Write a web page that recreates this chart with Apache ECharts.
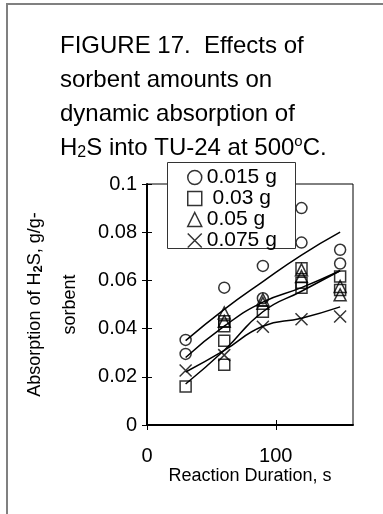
<!DOCTYPE html>
<html>
<head>
<meta charset="utf-8">
<script src="https://cdn.jsdelivr.net/npm/echarts@6/dist/echarts.min.js"></script>
<style>
html,body{margin:0;padding:0;background:#fff;}
#c{width:383px;height:514px;}
</style>
</head>
<body>
<div id="c"></div>
<script>
// ---- data ----
var seriesNames = ['0.015 g', '0.03 g', '0.05 g', '0.075 g'];
var xTicks = [0, 100];
var yTicks = [0, 0.02, 0.04, 0.06, 0.08, 0.1];

// measured points [reaction duration s, absorption g/g-sorbent]
var pts015 = [[30,0.0353],[30,0.0295],[60,0.057],[90,0.066],[90,0.0526],[120,0.090],[120,0.0757],[150,0.0727],[150,0.067]];
var pts03  = [[30,0.016],[60,0.043],[60,0.041],[60,0.035],[60,0.025],[90,0.047],[120,0.065],[120,0.059],[120,0.057],[150,0.0616],[150,0.056]];
var pts05  = [[60,0.0465],[60,0.043],[90,0.052],[90,0.0505],[120,0.0644],[120,0.0616],[150,0.0575],[150,0.054]];
var pts075 = [[30,0.0226],[60,0.029],[90,0.0408],[120,0.0439],[150,0.045]];

// model curves
var fit015 = [[30,0.035],[60,0.048],[90,0.0595],[120,0.0705],[150,0.080]];
var fit03  = [[30,0.028],[60,0.041],[90,0.051],[120,0.057],[150,0.064]];
var fit05  = [[30,0.017],[60,0.031],[90,0.047],[120,0.0555],[150,0.064]];
var fit075 = [[30,0.022],[60,0.031],[90,0.041],[120,0.0443],[150,0.049]];

var FONT = 'Liberation Sans, Arial, sans-serif';
var symX = 'path://M0,0L10,10M0,10L10,0';

function scat(name, data, symbol, size) {
  return {
    type: 'scatter', name: name, data: data, symbol: symbol, symbolSize: size,
    itemStyle: { color: 'rgba(0,0,0,0)', borderColor: '#000', borderWidth: 1.5 },
    emphasis: { disabled: true }, z: 3
  };
}
function fit(data) {
  return {
    type: 'line', data: data, smooth: true, showSymbol: false, symbol: 'none',
    lineStyle: { color: '#000', width: 1.5 }, silent: true, z: 2
  };
}

var chart = echarts.init(document.getElementById('c'), null, { renderer: 'canvas' });
chart.setOption({
  animation: false,
  backgroundColor: '#fff',
  title: {
    left: 60, top: 29, padding: 0,
    text: 'FIGURE 17.  Effects of\nsorbent amounts on\ndynamic absorption of\nH{sub|2}S into TU-24 at 500{sup|o}C.',
    textStyle: {
      fontFamily: FONT, fontSize: 24, fontWeight: 'normal', color: '#000', lineHeight: 34,
      rich: {
        sub: { fontFamily: FONT, fontSize: 16, lineHeight: 16, padding: [10, 0, 0, 0], color: '#000' },
        sup: { fontFamily: FONT, fontSize: 15, lineHeight: 15, padding: [0, 0, 12, 0], color: '#000' }
      }
    }
  },
  legend: {
    data: seriesNames,
    orient: 'vertical',
    left: 167, top: 162,
    padding: [5, 0, 0, 20],
    itemGap: 0,
    itemWidth: 14, itemHeight: 14,
    formatter: function (n) { return n === '0.03 g' ? ' 0.03 g' : n; },
    textStyle: { fontFamily: FONT, fontSize: 21, color: '#000', lineHeight: 19.5 },
    itemStyle: { color: 'rgba(0,0,0,0)', borderColor: '#000', borderWidth: 1.5 },
    selectedMode: false,
    z: 10
  },
  grid: {
    left: 147, top: 184, right: 30, bottom: 89,
    show: true, borderColor: '#000', borderWidth: 1, backgroundColor: 'transparent'
  },
  xAxis: [{
    type: 'value', min: 0, max: 160, interval: 100, position: 'bottom',
    name: 'Reaction Duration, s', nameLocation: 'middle', nameGap: 42,
    nameTextStyle: { fontFamily: FONT, fontSize: 18, color: '#000' },
    axisLine: { lineStyle: { color: '#000', width: 2 } },
    axisTick: { show: true, length: 5, customValues: xTicks, lineStyle: { color: '#000', width: 1 } },
    axisLabel: { customValues: xTicks, margin: 21, fontFamily: FONT, fontSize: 20, color: '#000' },
    splitLine: { show: false }
  }, {
    type: 'value', min: 0, max: 160, interval: 100, position: 'bottom',
    axisLine: { show: false },
    axisTick: { show: true, inside: true, length: 5, customValues: xTicks, lineStyle: { color: '#000', width: 1 } },
    axisLabel: { show: false },
    splitLine: { show: false }
  }],
  yAxis: [{
    type: 'value', min: 0, max: 0.1, interval: 0.02, position: 'left',
    name: 'Absorption of H{sub|2}S, g/g-\nsorbent', nameLocation: 'middle', nameGap: 51,
    nameTextStyle: {
      fontFamily: FONT, fontSize: 18, color: '#000', lineHeight: 35, align: 'center',
      rich: { sub: { fontFamily: FONT, fontSize: 13, fontWeight: 'bold', lineHeight: 13, padding: [7, 0, 0, 0], color: '#000' } }
    },
    axisLine: { lineStyle: { color: '#000', width: 2 } },
    axisTick: { show: true, length: 5, lineStyle: { color: '#000', width: 1 } },
    axisLabel: {
      margin: 10, fontFamily: FONT, fontSize: 20, color: '#000',
      formatter: function (v) { return String(Math.round(v * 100) / 100); }
    },
    splitLine: { show: false }
  }, {
    type: 'value', min: 0, max: 0.1, interval: 0.02, position: 'left',
    axisLine: { show: false },
    axisTick: { show: true, inside: true, length: 5, lineStyle: { color: '#000', width: 1 } },
    axisLabel: { show: false },
    splitLine: { show: false }
  }],
  series: [
    scat(seriesNames[0], pts015, 'circle', 11),
    scat(seriesNames[1], pts03, 'rect', 11),
    scat(seriesNames[2], pts05, 'triangle', 12),
    scat(seriesNames[3], pts075, symX, 12),
    fit(fit015), fit(fit03), fit(fit05), fit(fit075)
  ],
  graphic: [
    { type: 'line', shape: { x1: 7, y1: 4, x2: 7, y2: 514 }, style: { stroke: '#808080', lineWidth: 2 }, silent: true },
    { type: 'line', shape: { x1: 6, y1: 4, x2: 383, y2: 4 }, style: { stroke: '#808080', lineWidth: 2 }, silent: true },
    { type: 'rect', z: 5, shape: { x: 167.5, y: 162.5, width: 128, height: 86 }, style: { fill: '#fff', stroke: '#333', lineWidth: 1 }, silent: true }
  ]
});
</script>
</body>
</html>
